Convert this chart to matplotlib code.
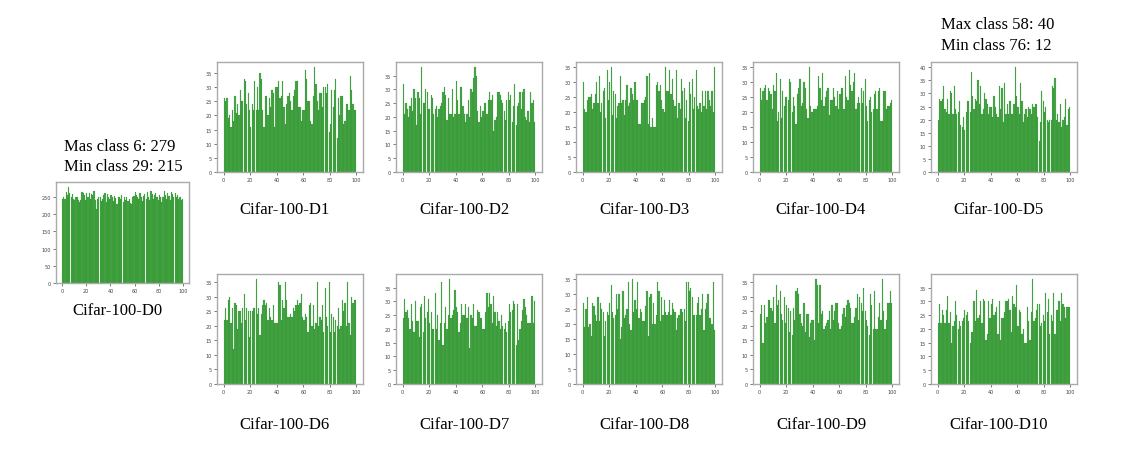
import matplotlib
matplotlib.use('Agg')
import matplotlib.pyplot as plt
import numpy as np

# per-class sample counts (classes 0..99)
d0 = [245,250,245,265,255,279,260,250,258,245,240,250,248,242,235,240,265,262,255,240,
      260,248,262,245,258,255,268,240,215,245,250,248,238,245,255,260,235,258,250,243,
      255,248,238,252,246,230,250,248,244,255,235,248,240,250,238,245,232,230,250,252,
      265,255,248,245,260,250,238,252,258,245,265,250,240,268,258,245,255,260,248,240,
      255,250,235,248,268,255,245,262,252,240,265,258,250,262,248,255,245,250,240,243]
d1 = [26,25,26,19,20,16,22,18,27,21,24,20,29,25,25,33,32,24,28,22,
      16,24,22,32,22,30,22,35,33,22,16,27,27,20,26,23,29,28,16,30,
      30,32,26,27,32,23,17,24,27,28,25,22,27,29,32,32,23,23,18,22,
      22,36,33,25,25,18,17,27,37,31,25,22,28,28,23,30,30,28,31,14,
      17,29,23,29,33,12,26,20,27,27,17,18,24,24,22,34,29,24,22,22]
d2 = [32,21,25,23,20,24,27,22,30,27,17,29,27,21,38,25,25,30,29,23,
      23,28,27,21,23,24,20,23,24,25,29,31,28,19,27,21,21,30,20,21,
      33,26,21,31,31,24,21,18,21,26,20,30,29,34,38,35,22,18,24,20,
      22,25,25,21,26,29,26,28,15,19,20,29,29,28,26,25,22,19,26,29,
      26,28,18,24,32,17,24,25,29,23,29,30,20,19,22,18,29,25,26,18]
d3 = [30,21,20,24,25,25,26,21,23,26,30,23,32,20,23,27,28,18,34,24,
      30,35,19,27,26,18,22,23,32,23,24,19,24,29,22,23,28,26,24,30,
      24,24,16,16,23,23,24,25,32,16,33,15,18,15,15,29,30,27,29,24,
      21,20,35,27,27,34,26,31,24,22,34,18,23,21,31,27,28,18,24,17,
      30,26,31,21,25,34,22,21,23,20,27,22,27,21,27,24,22,27,20,35]
d4 = [28,24,27,28,29,24,28,27,26,21,29,27,33,17,20,31,18,27,22,25,
      25,24,31,30,20,25,22,16,26,28,31,22,23,30,28,21,18,35,22,20,
      21,21,21,22,32,28,24,33,22,25,27,28,19,24,24,28,25,22,27,21,
      26,28,28,21,32,25,24,34,29,27,30,33,21,23,25,23,28,23,27,31,
      22,17,24,25,20,21,26,27,21,27,28,17,17,27,27,21,22,22,23,24]
d5 = [20,28,27,28,33,24,23,28,22,31,30,22,33,24,22,23,27,18,17,21,
      16,23,27,27,23,38,29,24,28,27,35,26,33,22,24,30,28,26,22,25,
      25,21,29,25,22,21,33,24,32,19,34,22,26,22,27,22,22,26,40,29,
      25,22,34,27,19,22,24,21,25,24,22,26,25,26,26,21,12,19,31,27,
      23,25,20,19,20,20,33,32,36,20,22,19,26,17,20,21,28,18,24,25]
d6 = [22,26,22,29,30,21,26,12,28,27,19,25,25,21,26,31,22,26,25,16,
      25,25,26,26,36,24,26,17,24,27,29,27,28,22,26,23,22,27,21,21,
      21,35,34,22,29,26,35,29,23,23,24,23,26,25,27,29,27,28,31,23,
      22,24,23,18,27,28,20,27,19,21,35,20,23,22,27,18,33,23,20,35,
      18,24,23,18,22,20,26,19,20,29,25,28,20,35,21,17,30,28,29,29]
d7 = [24,31,26,27,24,20,29,23,19,30,23,23,17,28,29,19,32,24,26,31,
      22,26,20,20,33,20,25,16,22,37,14,22,28,20,25,38,24,25,27,34,
      28,26,19,22,29,25,25,29,24,28,13,25,24,29,21,21,27,26,24,24,
      20,20,26,33,28,33,29,22,32,26,21,26,23,20,25,21,20,22,19,23,
      29,26,27,30,29,14,29,16,20,23,27,31,28,25,22,22,22,32,22,30]
d8 = [27,19,25,29,19,20,16,27,26,23,21,29,21,27,25,24,16,21,24,23,
      27,33,24,22,23,30,25,30,15,19,31,22,23,25,34,20,18,35,24,28,
      25,34,22,25,24,21,21,26,31,16,29,30,20,27,20,23,34,31,21,29,
      23,28,24,23,24,28,23,27,25,24,18,22,23,25,25,24,25,21,34,34,
      31,32,29,23,23,23,27,29,23,25,30,18,25,27,30,22,22,20,34,18]
d9 = [24,27,14,27,21,23,29,29,26,25,30,21,34,27,29,32,24,22,30,21,
      27,26,18,25,17,26,22,32,33,31,24,21,20,28,18,24,24,16,21,22,
      22,15,36,34,21,34,24,25,19,20,21,22,25,19,27,22,25,28,28,21,
      19,20,24,26,23,27,29,28,26,21,21,23,26,31,22,30,28,25,33,25,
      22,20,17,31,27,19,32,19,19,23,28,22,36,25,19,22,28,28,32,28]
d10 = [22,29,22,27,25,22,27,32,22,26,15,21,23,30,25,20,23,21,23,24,
       27,25,26,23,15,19,19,30,23,34,24,25,30,22,31,30,16,18,30,24,
       29,31,25,26,28,18,30,16,24,24,26,30,30,31,27,19,32,29,28,36,
       21,27,26,18,20,15,15,28,23,16,26,38,23,24,27,29,29,21,22,25,
       23,33,26,31,18,25,23,33,18,27,27,30,23,33,29,28,24,28,28,28]

names = ['Cifar-100-D%d' % i for i in range(11)]
counts = [d0, d1, d2, d3, d4, d5, d6, d7, d8, d9, d10]
for c in counts:
    assert len(c) == 100, len(c)

W, H = 1126., 460.
fig = plt.figure(figsize=(W / 100, H / 100), dpi=100)

# axes boxes in pixels: left, top, width, height
boxes = [(56, 183, 133, 101)]
for row_top in (63, 275):
    for left in (217, 396, 576, 753, 931):
        boxes.append((left, row_top, 146, 110))

x = np.arange(100) + 0.5
for i, (l, t, w, h) in enumerate(boxes):
    ax = fig.add_axes([l / W, 1 - (t + h) / H, w / W, h / H])
    ax.bar(x, counts[i], width=0.95, color='green', edgecolor='green',
           linewidth=0.12, alpha=0.7)
    ax.set_xticks(np.arange(0, 101, 20))
    ax.tick_params(labelsize=3.5, length=2, width=0.5, pad=1.5, colors='#444444')
    for s in ax.spines.values():
        s.set_color('#aaaaaa')
        s.set_linewidth(1.0)
    # caption under each panel
    lab_y = {0: 311}.get(i, 210 if i <= 5 else 425)
    fig.text((l + w / 2 - 5) / W, 1 - lab_y / H, names[i], ha='center', va='center',
             family='Liberation Serif', fontsize=12)

fig.text(64 / W, 1 - 147 / H, 'Mas class 6: 279', ha='left', va='center',
         family='Liberation Serif', fontsize=12)
fig.text(64 / W, 1 - 167 / H, 'Min class 29: 215', ha='left', va='center',
         family='Liberation Serif', fontsize=12)
fig.text(941 / W, 1 - 25 / H, 'Max class 58: 40', ha='left', va='center',
         family='Liberation Serif', fontsize=12)
fig.text(941 / W, 1 - 46 / H, 'Min class 76: 12', ha='left', va='center',
         family='Liberation Serif', fontsize=12)

fig.savefig('out.png', dpi=100)
